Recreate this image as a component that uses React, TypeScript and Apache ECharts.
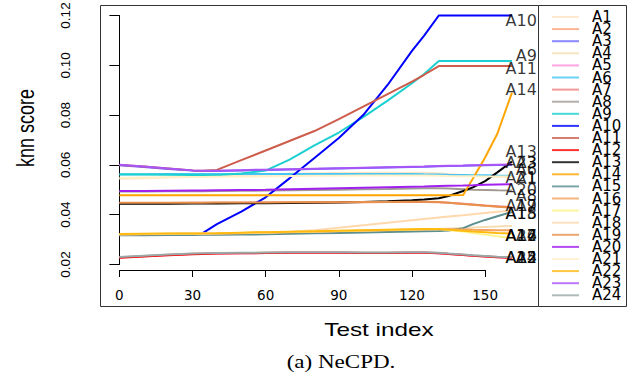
import React, { useEffect, useRef } from 'react';
import * as echarts from 'echarts';

// Test index sample positions shared by all series
const xs = [0, 10, 20, 30, 34, 40, 50, 60, 70, 80, 90, 100, 110, 120, 125, 131, 135, 141, 145, 150, 155, 161];

const a1 = [0.0544, 0.0546, 0.0549, 0.0552, 0.0553, 0.0555, 0.0558, 0.0561, 0.0564, 0.0566, 0.0567, 0.0568, 0.0568, 0.0568, 0.0568, 0.0566, 0.0563, 0.0559, 0.0556, 0.0554, 0.0552, 0.0551];
const a2 = [0.0229, 0.0234, 0.0239, 0.0243, 0.0244, 0.0245, 0.0246, 0.0247, 0.0248, 0.0248, 0.0248, 0.0247, 0.0247, 0.0248, 0.0248, 0.0246, 0.0243, 0.0239, 0.0236, 0.0233, 0.023, 0.0228];
const a3 = [0.0599, 0.0592, 0.0584, 0.0577, 0.0576, 0.0576, 0.0578, 0.058, 0.0582, 0.0584, 0.0586, 0.0588, 0.059, 0.0592, 0.0593, 0.0595, 0.0596, 0.0597, 0.0598, 0.0599, 0.06, 0.06];
const a4 = [0.0321, 0.0322, 0.0323, 0.0324, 0.0324, 0.0325, 0.0327, 0.0329, 0.0331, 0.0333, 0.0335, 0.0337, 0.0339, 0.0341, 0.0342, 0.0343, 0.0345, 0.0347, 0.0349, 0.0351, 0.0353, 0.0355];
const a5 = [0.0228, 0.0233, 0.0238, 0.0242, 0.0243, 0.0244, 0.0245, 0.0246, 0.0247, 0.0247, 0.0247, 0.0246, 0.0246, 0.0247, 0.0247, 0.0245, 0.0242, 0.0238, 0.0235, 0.0232, 0.0229, 0.0227];
const a6 = [0.0562, 0.0562, 0.0563, 0.0563, 0.0563, 0.0563, 0.0563, 0.0563, 0.0563, 0.0563, 0.0563, 0.0563, 0.0563, 0.0563, 0.0562, 0.0561, 0.056, 0.0559, 0.0558, 0.0558, 0.0557, 0.0556];
const a7 = [0.0447, 0.0447, 0.0447, 0.0448, 0.0448, 0.0448, 0.0448, 0.0449, 0.0449, 0.0449, 0.045, 0.045, 0.0451, 0.0451, 0.0451, 0.045, 0.0448, 0.0444, 0.0441, 0.0437, 0.0434, 0.043];
const a8 = [0.0493, 0.0493, 0.0494, 0.0494, 0.0494, 0.0495, 0.0496, 0.0497, 0.0498, 0.0499, 0.05, 0.0502, 0.0503, 0.0505, 0.0506, 0.0506, 0.0505, 0.0502, 0.05, 0.0499, 0.0498, 0.0497];
const a9 = [0.0561, 0.0561, 0.056, 0.0559, 0.0558, 0.0558, 0.0565, 0.0577, 0.0622, 0.0678, 0.073, 0.0792, 0.0858, 0.0928, 0.0965, 0.1017, 0.1017, 0.1017, 0.1017, 0.1017, 0.1017, 0.1017];
const a10 = [null, null, null, null, 0.0325, 0.0362, 0.0412, 0.047, 0.0548, 0.0628, 0.0708, 0.08, 0.0921, 0.1058, 0.1119, 0.12, 0.12, 0.12, 0.12, 0.12, 0.12, 0.12];
const a11 = [0.06, 0.0594, 0.0586, 0.0578, 0.0577, 0.058, 0.0619, 0.0658, 0.0697, 0.0736, 0.0784, 0.0834, 0.0884, 0.0934, 0.0962, 0.0997, 0.0997, 0.0997, 0.0997, 0.0997, 0.0997, 0.0997];
const a12 = [0.0227, 0.0232, 0.0237, 0.0241, 0.0242, 0.0244, 0.0245, 0.0246, 0.0247, 0.0247, 0.0247, 0.0246, 0.0246, 0.0247, 0.0247, 0.0245, 0.0242, 0.0238, 0.0235, 0.0232, 0.0229, 0.0227];
const a13 = [0.0444, 0.0444, 0.0444, 0.0445, 0.0445, 0.0445, 0.0446, 0.0446, 0.0447, 0.0448, 0.0449, 0.0451, 0.0454, 0.0458, 0.0461, 0.0466, 0.0475, 0.0495, 0.051, 0.0535, 0.057, 0.0613];
const a14 = [0.0478, 0.0478, 0.0478, 0.0478, 0.0478, 0.0478, 0.0478, 0.0478, 0.0478, 0.0478, 0.0478, 0.0478, 0.0478, 0.0478, 0.0478, 0.0478, 0.0478, 0.0479, 0.0545, 0.063, 0.0725, 0.089];
const a15 = [0.0317, 0.0317, 0.0318, 0.0318, 0.0319, 0.0319, 0.032, 0.0321, 0.0323, 0.0325, 0.0327, 0.0329, 0.0331, 0.0333, 0.0334, 0.0335, 0.0337, 0.0346, 0.0362, 0.0379, 0.0394, 0.0411];
const a16 = [0.032, 0.0321, 0.0322, 0.0323, 0.0323, 0.0324, 0.0326, 0.0328, 0.033, 0.0332, 0.0334, 0.0336, 0.0338, 0.034, 0.0341, 0.0342, 0.0342, 0.0341, 0.034, 0.0339, 0.0338, 0.0337];
const a17 = [0.0321, 0.0322, 0.0323, 0.0324, 0.0324, 0.0325, 0.0327, 0.0329, 0.0331, 0.0333, 0.0335, 0.0337, 0.0339, 0.0341, 0.0342, 0.0343, 0.0339, 0.0332, 0.0326, 0.032, 0.0313, 0.0307];
const a18 = [0.0321, 0.0322, 0.0323, 0.0324, 0.0324, 0.0325, 0.0327, 0.0329, 0.0332, 0.0338, 0.0348, 0.0358, 0.0368, 0.0378, 0.0383, 0.0389, 0.0393, 0.0398, 0.0402, 0.0407, 0.0412, 0.0417];
const a19 = [0.0448, 0.0448, 0.0448, 0.0448, 0.0448, 0.0449, 0.0449, 0.0449, 0.045, 0.045, 0.045, 0.0451, 0.0451, 0.0452, 0.0452, 0.0451, 0.0448, 0.0443, 0.044, 0.0436, 0.0432, 0.0428];
const a20 = [0.0495, 0.0495, 0.0496, 0.0497, 0.0497, 0.0498, 0.0499, 0.05, 0.0502, 0.0504, 0.0506, 0.0508, 0.051, 0.0512, 0.0513, 0.0515, 0.0516, 0.0517, 0.0518, 0.052, 0.0521, 0.0522];
const a21 = [0.0548, 0.0549, 0.055, 0.0551, 0.0551, 0.0552, 0.0553, 0.0554, 0.0555, 0.0556, 0.0556, 0.0557, 0.0557, 0.0557, 0.0557, 0.0556, 0.0555, 0.0554, 0.0554, 0.0553, 0.0553, 0.0553];
const a22 = [0.0322, 0.0323, 0.0324, 0.0325, 0.0325, 0.0326, 0.0328, 0.033, 0.0332, 0.0334, 0.0336, 0.0338, 0.034, 0.0342, 0.0343, 0.0343, 0.034, 0.0336, 0.0333, 0.033, 0.0327, 0.0324];
const a23 = [0.0601, 0.0594, 0.0586, 0.0578, 0.0577, 0.0577, 0.0579, 0.0581, 0.0583, 0.0585, 0.0587, 0.0589, 0.0591, 0.0593, 0.0594, 0.0596, 0.0597, 0.0598, 0.0599, 0.06, 0.0601, 0.0602];
const a24 = [0.023, 0.0235, 0.024, 0.0244, 0.0245, 0.0246, 0.0247, 0.0248, 0.0249, 0.0249, 0.0249, 0.0248, 0.0248, 0.0249, 0.0249, 0.0247, 0.0244, 0.024, 0.0237, 0.0234, 0.0231, 0.0229];

const seriesNames = ['A1', 'A2', 'A3', 'A4', 'A5', 'A6', 'A7', 'A8', 'A9', 'A10', 'A11', 'A12', 'A13', 'A14', 'A15', 'A16', 'A17', 'A18', 'A19', 'A20', 'A21', 'A22', 'A23', 'A24'];
const seriesValues = [a1, a2, a3, a4, a5, a6, a7, a8, a9, a10, a11, a12, a13, a14, a15, a16, a17, a18, a19, a20, a21, a22, a23, a24];

const xTickStep = 30;
const yTickStep = 0.02;

// styling
const colors = ['#FFE4C4', '#FFA07A', '#6A6AFF', '#F5DEB3', '#FF90D8', '#45C6F5', '#F08080', '#A29A92', '#1CCFD0', '#0000FF', '#CD5C4C', '#FF0000', '#000000', '#FFA500', '#5B8F8F', '#F4A460', '#FFF38A', '#FFD8AE', '#E8904A', '#A020F0', '#FFF0C8', '#FFB90F', '#A855F7', '#9AA8A8'];
// vertical nudges (px) for the right-hand end labels
const labelNudge = [1, 0, -2, 9.5, 0, -6, -2, 5, -6, 4.5, 2, 0, -10, -3, 1.5, 5, -2.5, 3, -2, 5.5, 1, 2, -1.5, 0];

export default function App() {
  const ref = useRef<HTMLDivElement>(null);
  useEffect(() => {
    const chart = echarts.init(ref.current!, null, { renderer: 'svg' });
    const lastX = xs[xs.length - 1];
    const lines = seriesNames.map((name, i) => ({
      type: 'line',
      name,
      xAxisIndex: 0,
      yAxisIndex: 0,
      data: xs.map((x, j) => [x, seriesValues[i][j]]).filter((p) => p[1] !== null),
      symbol: 'none',
      showSymbol: false,
      clip: false,
      silent: true,
      legendHoverLink: false,
      lineStyle: { width: 2, color: colors[i] },
      itemStyle: { color: colors[i] },
      emphasis: { disabled: true },
      z: 2,
    }));
    const endLabels = {
      type: 'scatter',
      name: 'labels',
      xAxisIndex: 0,
      yAxisIndex: 0,
      symbolSize: 1,
      silent: true,
      z: 5,
      itemStyle: { color: 'rgba(0,0,0,0)' },
      emphasis: { disabled: true },
      label: {
        show: true,
        position: 'inside',
        formatter: '{b}',
        color: '#000',
        fontFamily: 'DejaVu Sans',
        fontSize: 16,
        align: 'right',
        verticalAlign: 'middle',
      },
      data: seriesNames.map((name, i) => ({
        name,
        value: [lastX, seriesValues[i][seriesValues[i].length - 1]],
        label: { offset: [25, labelNudge[i]] },
      })),
    };
    chart.setOption({
      animation: false,
      backgroundColor: '#fff',
      grid: [
        { left: 119.4, top: 15.5, width: 419.6, height: 249, outerBoundsMode: 'none', containLabel: false },
        { left: 119.4, top: 269, width: 365.7, height: 1, outerBoundsMode: 'none', containLabel: false },
      ],
      xAxis: [
        { gridIndex: 0, type: 'value', min: 0, max: 172.1, show: false },
        {
          gridIndex: 1,
          type: 'value',
          min: 0,
          max: 150,
          interval: xTickStep,
          position: 'bottom',
          axisLine: { show: true, lineStyle: { color: '#000', width: 1 } },
          axisTick: { show: true, length: 7, inside: false, lineStyle: { color: '#000' } },
          axisLabel: { margin: 18, color: '#000', fontFamily: 'DejaVu Sans', fontSize: 13.5 },
          splitLine: { show: false },
        },
      ],
      yAxis: [
        {
          gridIndex: 0,
          type: 'value',
          min: 0.02,
          max: 0.12,
          interval: yTickStep,
          position: 'left',
          offset: 19.4,
          axisLine: { show: true, lineStyle: { color: '#000', width: 1 } },
          axisTick: { show: true, length: 10, inside: false, lineStyle: { color: '#000' } },
          axisLabel: {
            rotate: 90,
            margin: 28,
            color: '#000',
            fontFamily: 'Liberation Sans',
            fontSize: 13.5,
            formatter: (v: number) => v.toFixed(2),
          },
          splitLine: { show: false },
        },
        { gridIndex: 1, type: 'value', min: 0, max: 1, show: false },
      ],
      legend: {
        data: seriesNames,
        orient: 'vertical',
        left: 552,
        top: 9.5,
        padding: 0,
        itemGap: -2.9,
        icon: 'rect',
        itemWidth: 27,
        itemHeight: 2,
        selectedMode: false,
        itemStyle: { opacity: 0.8 },
        textStyle: { fontFamily: 'DejaVu Sans', fontSize: 15, color: '#000', padding: [0, 0, 0, 8] },
      },
      graphic: [
        { type: 'rect', silent: true, shape: { x: 100.5, y: 5.5, width: 438, height: 301 }, style: { fill: 'none', stroke: '#333', lineWidth: 1 } },
        { type: 'rect', silent: true, shape: { x: 538.5, y: 5.5, width: 88, height: 301 }, style: { fill: 'none', stroke: '#333', lineWidth: 1 } },
        {
          type: 'text', silent: true, x: 379, y: 329, scaleX: 1.28,
          style: { text: 'Test index', fontFamily: 'Liberation Sans', fontSize: 19, fill: '#000', align: 'center', verticalAlign: 'middle' },
        },
        {
          type: 'text', silent: true, x: 341, y: 362, scaleX: 1.28,
          style: { text: '(a) NeCPD.', fontFamily: 'Liberation Serif', fontSize: 18, fill: '#000', align: 'center', verticalAlign: 'middle' },
        },
        {
          type: 'text', silent: true, x: 26, y: 128, rotation: Math.PI / 2, scaleY: 1.28,
          style: { text: 'knn score', fontFamily: 'Liberation Sans', fontSize: 18, fill: '#000', align: 'center', verticalAlign: 'middle' },
        },
      ],
      series: [...lines, endLabels],
    });
    return () => chart.dispose();
  }, []);
  return <div ref={ref} style={{ position: 'fixed', left: 0, top: 0, width: 634, height: 382, background: '#fff' }} />;
}
